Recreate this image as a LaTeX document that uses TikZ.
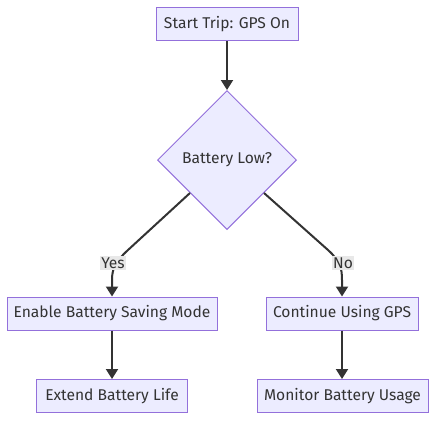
\documentclass[tikz,border=0pt]{standalone}
\usepackage{fontspec}
\setmainfont{Fira Sans}
\usetikzlibrary{arrows.meta,shapes.geometric}
\definecolor{nodefill}{HTML}{ECECFF}
\definecolor{nodeline}{HTML}{9370DB}
\definecolor{edgeline}{HTML}{333333}
\definecolor{lblfill}{HTML}{E8E8E8}
\tikzset{
  box/.style={draw=nodeline, fill=nodefill, line width=1pt, minimum height=33pt, inner sep=0pt, text=edgeline, font=\fontsize{15.6}{18}\selectfont},
  dia/.style={draw=nodeline, fill=nodefill, line width=1pt, diamond, aspect=1, minimum width=139pt, minimum height=139pt, inner sep=0pt, text=edgeline, font=\fontsize{15.6}{18}\selectfont},
  edge/.style={draw=edgeline, line width=2pt, -{Triangle[length=10pt,width=12pt]}},
  lbl/.style={fill=lblfill, inner sep=1.2pt, text=edgeline, font=\fontsize{15.6}{18}\selectfont}
}
\begin{document}
\begin{tikzpicture}[x=1pt,y=-1pt]
\useasboundingbox (0,0) rectangle (444,429);
\node[box, minimum width=142pt] (start) at (227,24) {Start Trip: GPS On};
\node[dia] (low) at (227,160) {Battery Low?};
\node[box, minimum width=210pt] (save) at (112,313.5) {Enable Battery Saving Mode};
\node[box, minimum width=152pt] (cont) at (342,313.5) {Continue Using GPS};
\node[box, minimum width=151pt] (ext) at (112,396) {Extend Battery Life};
\node[box, minimum width=171pt] (mon) at (342.5,396) {Monitor Battery Usage};
\coordinate (dl) at (190,193);
\coordinate (dr) at (264,193);
\draw[edge] (start) -- (low);
\draw[edge] (dl) -- (128,250) .. controls (116,261) and (112,268) .. (112,280) -- (save.north);
\draw[edge] (dr) -- (328,250) .. controls (340,261) and (342,268) .. (342,280) -- (cont.north);
\draw[edge] (save) -- (ext);
\draw[edge] (cont) -- (cont |- mon.north);
\node[lbl] (yes) at (113,263) {Yes};
\node[lbl] (no) at (343,263) {No};
\end{tikzpicture}
\end{document}
